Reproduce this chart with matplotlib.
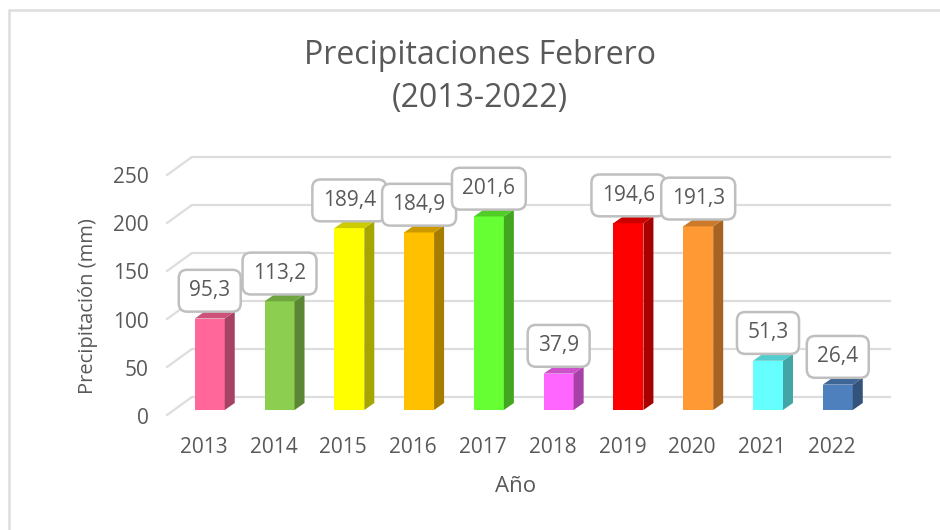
import matplotlib
matplotlib.use("Agg")
import matplotlib.pyplot as plt
from matplotlib.patches import Polygon
from matplotlib.transforms import Affine2D
import matplotlib.colors as mc

plt.rcParams['font.family'] = ['Open Sans', 'DejaVu Sans']

years = ['2013', '2014', '2015', '2016', '2017', '2018', '2019', '2020', '2021', '2022']
values = [95.3, 113.2, 189.4, 184.9, 201.6, 37.9, 194.6, 191.3, 51.3, 26.4]
labels = ['95,3', '113,2', '189,4', '184,9', '201,6', '37,9', '194,6', '191,3', '51,3', '26,4']
colors = ['#FF6699', '#8CCF50', '#FFFF00', '#FFC000', '#66FF33', '#FF66FF', '#FF0000', '#FF9933', '#66FFFF', '#4E80BD']
yticks = [0, 50, 100, 150, 200, 250]

TXT = '#595959'
GRID = '#DDDDDD'
W, H = 940, 530
fig = plt.figure(figsize=(W / 100, H / 100), dpi=100, facecolor='white')

PX_X = 69.78   # px per category
PX_Y = 0.96    # px per mm
L, R, Y0 = 167, 890, 410
ax = fig.add_axes([L / W, (H - Y0) / H, (R - L) / W, 250 * PX_Y / H])
ax.set_xlim((L - 209.75) / PX_X, (R - 209.75) / PX_X)
ax.set_ylim(0, 250)
ax.patch.set_alpha(0)
for s in ax.spines.values():
    s.set_visible(False)

# 3D depth, in data units
bar_w = 30 / PX_X
dx, dy = 10 / PX_X, 7 / PX_Y
back_x, back_y = (192 - L) / PX_X, 13 / PX_Y
front_y = -5 / PX_Y
x_left = ax.get_xlim()[0]
x_right = ax.get_xlim()[1]

for t in yticks:
    ax.plot([x_left, x_left + back_x, x_right], [t + front_y, t + back_y, t + back_y],
            color=GRID, lw=1.6, clip_on=False, zorder=1, solid_joinstyle='miter')


def shade(c, f):
    r, g, b = mc.to_rgb(c)
    return (r * f, g * f, b * f)


xs = list(range(len(values)))
ax.bar(xs, values, width=bar_w, color=colors, zorder=3, linewidth=0)
for x, v, c in zip(xs, values, colors):
    xr = x + bar_w / 2
    xl = x - bar_w / 2
    ax.add_patch(Polygon([(xr, 0), (xr + dx, dy), (xr + dx, v + dy), (xr, v)],
                         closed=True, fc=shade(c, 0.65), ec='none', zorder=3, clip_on=False))
    ax.add_patch(Polygon([(xl, v), (xr, v), (xr + dx, v + dy), (xl + dx, v + dy)],
                         closed=True, fc=shade(c, 0.8), ec='none', zorder=3, clip_on=False))

for i, (x, v, s) in enumerate(zip(xs, values, labels)):
    ax.annotate(s, (x, v), xytext=(0, 20), textcoords='offset points', ha='center', va='center',
                fontsize=15, color=TXT, zorder=5 + i, annotation_clip=False,
                bbox=dict(boxstyle='round,pad=0.5,rounding_size=0.4', fc='white', ec='#BFBFBF', lw=1.8))

ax.set_xticks(xs, years)
ax.set_yticks(yticks, [str(t) for t in yticks])
ax.tick_params(axis='both', length=0, labelsize=15, labelcolor=TXT)
ax.tick_params(axis='y', pad=13)
ax.tick_params(axis='x', pad=19.5)
for lab in ax.get_xticklabels():
    lab.set_transform(lab.get_transform() + Affine2D().translate(-6, 0))
for lab in ax.get_yticklabels():
    lab.set_transform(lab.get_transform() + Affine2D().translate(0, -5.5))

fig.text(480 / W, 1 - 56 / H, 'Precipitaciones Febrero', ha='center', va='center', fontsize=23, color=TXT)
fig.text(480 / W, 1 - 99 / H, '(2013-2022)', ha='center', va='center', fontsize=23, color=TXT)
fig.text(88 / W, 1 - 306 / H, 'Precipitación (mm)', rotation=90, ha='center', va='center', fontsize=14.5, color=TXT)
fig.text(516 / W, 1 - 486 / H, 'Año', ha='center', va='center', fontsize=16, color=TXT)

# chart frame
fig.add_artist(plt.Line2D([8.5 / W, 8.5 / W, 1], [0, 1 - 9.5 / H, 1 - 9.5 / H], color=GRID, lw=1.8,
                          transform=fig.transFigure, solid_joinstyle='miter'))

fig.savefig('out.png', dpi=100)
